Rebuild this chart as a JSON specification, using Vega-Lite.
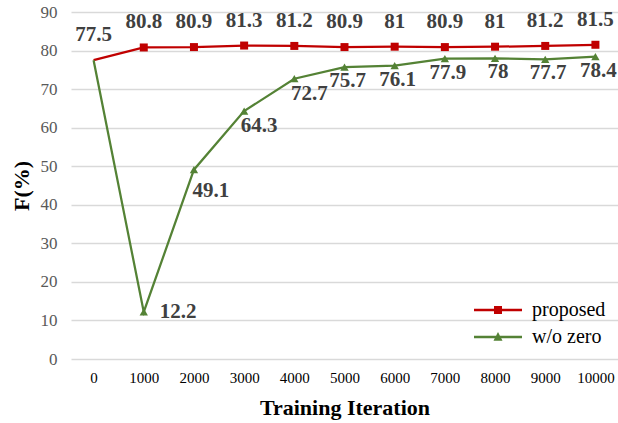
{
  "$schema": "https://vega.github.io/schema/vega-lite/v6.json",
  "autosize": {"type": "none"},
  "padding": {"left": 71, "top": 12, "right": 0, "bottom": 64},
  "width": 547,
  "height": 347,
  "background": "white",
  "config": {
    "view": {"stroke": null},
    "font": "Liberation Serif, Times New Roman, serif",
    "text": {"font": "Liberation Serif, Times New Roman, serif"},
    "axis": {"labelFont": "Liberation Serif, Times New Roman, serif", "titleFont": "Liberation Serif, Times New Roman, serif"},
    "legend": {"labelFont": "Liberation Serif, Times New Roman, serif"}
  },
  "data": {
    "values": [
      {"iter": 0, "series": "proposed", "f": 77.5},
      {"iter": 1000, "series": "proposed", "f": 80.8},
      {"iter": 2000, "series": "proposed", "f": 80.9},
      {"iter": 3000, "series": "proposed", "f": 81.3},
      {"iter": 4000, "series": "proposed", "f": 81.2},
      {"iter": 5000, "series": "proposed", "f": 80.9},
      {"iter": 6000, "series": "proposed", "f": 81},
      {"iter": 7000, "series": "proposed", "f": 80.9},
      {"iter": 8000, "series": "proposed", "f": 81},
      {"iter": 9000, "series": "proposed", "f": 81.2},
      {"iter": 10000, "series": "proposed", "f": 81.5},
      {"iter": 0, "series": "w/o zero", "f": 77.5},
      {"iter": 1000, "series": "w/o zero", "f": 12.2},
      {"iter": 2000, "series": "w/o zero", "f": 49.1},
      {"iter": 3000, "series": "w/o zero", "f": 64.3},
      {"iter": 4000, "series": "w/o zero", "f": 72.7},
      {"iter": 5000, "series": "w/o zero", "f": 75.7},
      {"iter": 6000, "series": "w/o zero", "f": 76.1},
      {"iter": 7000, "series": "w/o zero", "f": 77.9},
      {"iter": 8000, "series": "w/o zero", "f": 78},
      {"iter": 9000, "series": "w/o zero", "f": 77.7},
      {"iter": 10000, "series": "w/o zero", "f": 78.4}
    ]
  },
  "encoding": {
    "x": {
      "field": "iter",
      "type": "ordinal",
      "scale": {"type": "point", "padding": 0.45},
      "axis": {
        "title": "Training Iteration",
        "titleFontSize": 22,
        "titleFontWeight": "bold",
        "titleColor": "#000000",
        "titlePadding": 12,
        "labelFontSize": 15,
        "labelColor": "#000000",
        "labelAngle": 0,
        "labelPadding": 11,
        "ticks": false,
        "domain": false,
        "grid": false
      }
    },
    "y": {
      "field": "f",
      "type": "quantitative",
      "scale": {"domain": [0, 90], "nice": false},
      "axis": {
        "title": "F(%)",
        "titleFontSize": 22,
        "titleFontWeight": "bold",
        "titleColor": "#000000",
        "titlePadding": 7,
        "labelFontSize": 17,
        "labelColor": "#595959",
        "labelPadding": 14,
        "values": [0, 10, 20, 30, 40, 50, 60, 70, 80, 90],
        "ticks": false,
        "domain": false,
        "grid": true,
        "gridColor": "#D9D9D9",
        "gridWidth": 1.5
      }
    },
    "color": {
      "field": "series",
      "type": "nominal",
      "scale": {"domain": ["proposed", "w/o zero"], "range": ["#C00000", "#548235"]},
      "legend": {
        "title": null,
        "orient": "bottom-right",
        "offset": 10,
        "padding": 2,
        "labelFontSize": 20,
        "labelColor": "#000000",
        "labelOffset": 5,
        "rowPadding": 7,
        "symbolSize": 100,
        "encode": {
          "symbols": {
            "update": {
              "shape": {"signal": "datum.value === 'proposed' ? 'M-8.6,-0.25H1V0.25H-8.6Z M-4.6,-0.8H-3V0.8H-4.6Z' : 'M-8.6,-0.25H1V0.25H-8.6Z M-3.8,-1L-2.9,0.75H-4.7Z'"},
              "fill": {"signal": "datum.value === 'proposed' ? '#C00000' : '#548235'"},
              "stroke": {"value": "transparent"},
              "strokeWidth": {"value": 0},
              "size": {"value": 100},
              "opacity": {"value": 1}
            }
          }
        }
      }
    }
  },
  "layer": [
    {
      "mark": {"type": "line", "strokeWidth": 2.25}
    },
    {
      "transform": [{"filter": "datum.iter > 0 && datum.series === 'proposed'"}],
      "mark": {"type": "point", "filled": true, "opacity": 1, "shape": "square", "size": 64}
    },
    {
      "transform": [{"filter": "datum.iter > 0 && datum.series === 'w/o zero'"}],
      "mark": {"type": "point", "filled": true, "opacity": 1, "shape": "triangle-up", "size": 70}
    },
    {
      "transform": [{"filter": "datum.series === 'proposed'"}],
      "mark": {"type": "text", "fontSize": 21, "fontWeight": "bold", "baseline": "middle", "dy": -25},
      "encoding": {"text": {"field": "f", "type": "quantitative"}, "color": {"value": "#404040"}}
    },
    {
      "transform": [{"filter": "datum.series === 'w/o zero' && datum.iter === 1000"}],
      "mark": {"type": "text", "fontSize": 21, "fontWeight": "bold", "align": "left", "baseline": "middle", "dx": 16, "dy": 0},
      "encoding": {"text": {"field": "f", "type": "quantitative"}, "color": {"value": "#404040"}}
    },
    {
      "transform": [{"filter": "datum.series === 'w/o zero' && datum.iter === 2000"}],
      "mark": {"type": "text", "fontSize": 21, "fontWeight": "bold", "baseline": "middle", "dx": 17, "dy": 21},
      "encoding": {"text": {"field": "f", "type": "quantitative"}, "color": {"value": "#404040"}}
    },
    {
      "transform": [{"filter": "datum.series === 'w/o zero' && (datum.iter === 3000 || datum.iter === 4000)"}],
      "mark": {"type": "text", "fontSize": 21, "fontWeight": "bold", "baseline": "middle", "dx": 15, "dy": 15},
      "encoding": {"text": {"field": "f", "type": "quantitative"}, "color": {"value": "#404040"}}
    },
    {
      "transform": [{"filter": "datum.series === 'w/o zero' && datum.iter >= 5000"}],
      "mark": {"type": "text", "fontSize": 21, "fontWeight": "bold", "baseline": "middle", "dx": 3, "dy": 14},
      "encoding": {"text": {"field": "f", "type": "quantitative"}, "color": {"value": "#404040"}}
    }
  ]
}
